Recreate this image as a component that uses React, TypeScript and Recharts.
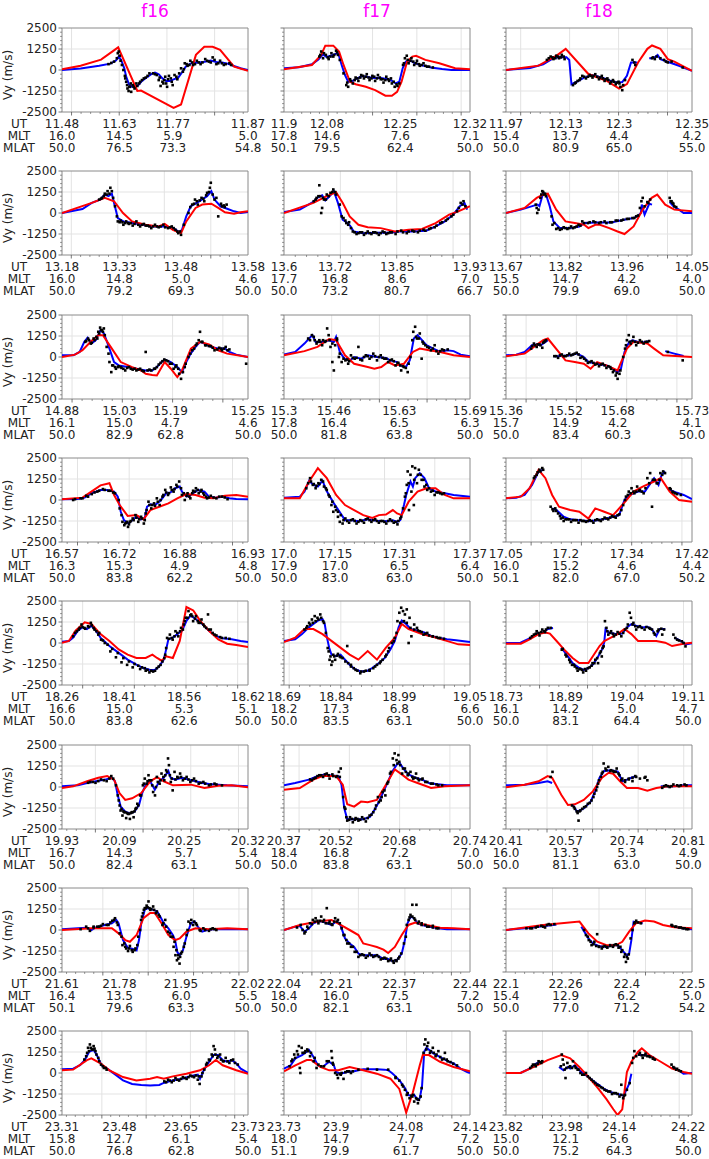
import React from 'react';
import { ComposedChart, XAxis, YAxis, CartesianGrid, Line, Scatter, ReferenceArea } from 'recharts';

// satellites (columns)
const sats = ['f16', 'f17', 'f18'];

// tick labels under each panel, row by row (f16, f17, f18)
const utLabels = [
  ['11.48', '11.63', '11.77', '11.87'], ['11.9', '12.08', '12.25', '12.32'], ['11.97', '12.13', '12.3', '12.35'],
  ['13.18', '13.33', '13.48', '13.58'], ['13.6', '13.72', '13.85', '13.93'], ['13.67', '13.82', '13.96', '14.05'],
  ['14.88', '15.03', '15.19', '15.25'], ['15.3', '15.46', '15.63', '15.69'], ['15.36', '15.52', '15.68', '15.73'],
  ['16.57', '16.72', '16.88', '16.93'], ['17.0', '17.15', '17.31', '17.37'], ['17.05', '17.2', '17.34', '17.42'],
  ['18.26', '18.41', '18.56', '18.62'], ['18.69', '18.84', '18.99', '19.05'], ['18.73', '18.89', '19.04', '19.11'],
  ['19.93', '20.09', '20.25', '20.32'], ['20.37', '20.52', '20.68', '20.74'], ['20.41', '20.57', '20.74', '20.81'],
  ['21.61', '21.78', '21.95', '22.02'], ['22.04', '22.21', '22.37', '22.44'], ['22.1', '22.26', '22.4', '22.5'],
  ['23.31', '23.48', '23.65', '23.73'], ['23.73', '23.9', '24.08', '24.14'], ['23.82', '23.98', '24.14', '24.22'],
];
const mltLabels = [
  ['16.0', '14.5', '5.9', '5.0'], ['17.8', '14.6', '7.6', '7.1'], ['15.4', '13.7', '4.4', '4.2'],
  ['16.0', '14.8', '5.0', '4.6'], ['17.7', '16.8', '8.6', '7.0'], ['15.5', '14.7', '4.2', '4.0'],
  ['16.1', '15.0', '4.7', '4.6'], ['17.8', '16.4', '6.5', '6.3'], ['15.7', '14.9', '4.2', '4.1'],
  ['16.3', '15.3', '4.9', '4.8'], ['17.9', '17.0', '6.5', '6.4'], ['16.0', '15.2', '4.6', '4.4'],
  ['16.6', '15.0', '5.3', '5.1'], ['18.2', '17.3', '6.8', '6.6'], ['16.1', '14.2', '5.0', '4.7'],
  ['16.7', '14.3', '5.7', '5.4'], ['18.4', '16.8', '7.2', '7.0'], ['16.0', '13.3', '5.3', '4.9'],
  ['16.4', '13.5', '6.0', '5.5'], ['18.4', '16.0', '7.5', '7.2'], ['15.4', '12.9', '6.2', '5.0'],
  ['15.8', '12.7', '6.1', '5.4'], ['18.0', '14.7', '7.7', '7.2'], ['15.0', '12.1', '5.6', '4.8'],
];
const mlatLabels = [
  ['50.0', '76.5', '73.3', '54.8'], ['50.1', '79.5', '62.4', '50.0'], ['50.0', '80.9', '65.0', '55.0'],
  ['50.0', '79.2', '69.3', '50.0'], ['50.0', '73.2', '80.7', '66.7'], ['50.0', '79.9', '69.0', '50.0'],
  ['50.0', '82.9', '62.8', '50.0'], ['50.0', '81.8', '63.8', '50.0'], ['50.0', '83.4', '60.3', '50.0'],
  ['50.0', '83.8', '62.2', '50.0'], ['50.0', '83.0', '63.0', '50.0'], ['50.1', '82.0', '67.0', '50.2'],
  ['50.0', '83.8', '62.6', '50.0'], ['50.0', '83.5', '63.1', '50.0'], ['50.0', '83.1', '64.4', '50.0'],
  ['50.0', '82.4', '63.1', '50.0'], ['50.0', '83.8', '63.1', '50.0'], ['50.0', '81.1', '63.0', '50.0'],
  ['50.1', '79.6', '63.3', '50.0'], ['50.0', '82.1', '63.1', '50.0'], ['50.0', '77.0', '71.2', '54.2'],
  ['50.0', '76.8', '62.8', '50.0'], ['51.1', '79.9', '61.7', '50.0'], ['50.0', '75.2', '64.3', '50.0'],
];
// where the labelled ticks sit along each panel (fraction of width)
const labelPos = [
  [0, 0.309, 0.596, 1], [0, 0.231, 0.625, 1], [0, 0.321, 0.608, 1],
  [0, 0.309, 0.64, 1], [0, 0.275, 0.608, 1], [0, 0.321, 0.65, 1],
  [0, 0.309, 0.584, 1], [0, 0.268, 0.62, 1], [0, 0.321, 0.601, 1],
  [0, 0.309, 0.633, 1], [0, 0.275, 0.62, 1], [0, 0.321, 0.65, 1],
  [0, 0.309, 0.657, 1], [0, 0.28, 0.62, 1], [0, 0.321, 0.65, 0.98],
  [0, 0.309, 0.657, 1], [0, 0.28, 0.62, 1], [0, 0.321, 0.65, 0.98],
  [0, 0.309, 0.64, 1], [0, 0.28, 0.62, 1], [0, 0.321, 0.65, 1],
  [0, 0.309, 0.64, 1], [0, 0.28, 0.657, 1], [0, 0.321, 0.608, 0.98],
];

// series: flat [x (per mille of panel width), Vy (m/s), ...]
const blueR1 = [
  [0,0, 100,90, 200,250, 260,380, 290,560, 305,800, 318,600, 335,100, 345,-400, 360,-850, 375,-1000, 395,-980, 410,-900, 430,-650, 455,-450, 480,-250, 500,-150, 520,-250, 540,-500, 560,-650, 580,-650, 600,-560, 625,-450, 645,-150, 665,200, 690,380, 720,430, 760,470, 800,560, 830,480, 860,450, 890,380, 920,250, 960,100, 1000,0],
  [0,100, 80,160, 150,340, 185,630, 210,930, 228,780, 255,860, 278,960, 292,990, 310,300, 328,-300, 345,-700, 365,-680, 390,-520, 420,-360, 450,-420, 480,-470, 510,-460, 545,-520, 575,-600, 600,-800, 620,-700, 638,100, 655,500, 675,580, 700,420, 740,280, 790,150, 850,60, 900,0, 1000,0],
  [0,0, 130,120, 200,340, 255,700, 290,780, 325,760, 340,600, 352,-850, 380,-700, 420,-450, 465,-320, 515,-450, 560,-640, 600,-750, 625,-720, 650,-350, 672,450, 705,450, 740,null, 770,700, 795,720, 815,900, 830,650, 880,450, 930,250, 1000,-50],
];
const redR1 = [
  [0,50, 100,250, 210,620, 302,1350, 405,-1250, 425,-1220, 600,-2250, 640,-2050, 720,900, 765,1380, 810,1380, 850,1200, 925,200, 1000,-50],
  [0,40, 150,300, 200,900, 222,1450, 265,1450, 296,1100, 320,300, 355,-700, 385,-850, 440,-1000, 490,-1200, 545,-1530, 580,-1530, 608,-1300, 632,-700, 662,500, 690,800, 710,850, 760,600, 835,400, 920,100, 1000,40],
  [0,0, 175,260, 272,860, 321,1260, 443,-240, 540,-640, 608,-1100, 650,-840, 710,450, 760,1260, 785,1460, 830,1260, 870,650, 905,500, 1000,-50],
];
const dotsR1 = [
  [250,350, 265,420, 280,500, 295,700, 300,1000, 305,1100, 310,850, 315,550, 322,300, 330,0, 338,-350, 345,-700, 352,-1100, 358,-1250, 365,-1000, 372,-1300, 380,-900, 390,-1100, 400,-800, 420,-700, 440,-500, 470,-200, 500,-250, 520,-600, 530,-950, 545,-800, 555,-400, 565,-1000, 575,-350, 590,-700, 605,-300, 620,-550, 640,100, 650,-100, 660,400, 675,250, 690,550, 705,300, 725,550, 745,350, 770,650, 790,500, 810,750, 830,350, 850,550, 870,300, 900,400,
   340,-500, 350,-900, 362,-1000, 370,-800, 385,-1000, 405,-950, 415,-800, 430,-600, 450,-450, 460,-350, 490,-200, 510,-300, 525,-450, 540,-700, 550,-600, 560,-800, 570,-550, 585,-500, 595,-900, 615,-400, 630,-200, 655,50, 670,350, 685,300, 700,450, 715,350, 735,450, 755,450, 780,550, 800,450, 820,600, 840,400, 860,400, 880,350, 910,300],
  [190,800, 200,1100, 210,700, 225,900, 240,650, 255,1000, 265,800, 280,1150, 290,900, 320,-200, 335,-900, 345,-1000, 355,-550, 370,-800, 385,-450, 400,-650, 415,-300, 430,-500, 445,-250, 460,-600, 475,-350, 490,-650, 505,-300, 520,-550, 535,-750, 550,-400, 565,-650, 580,-800, 595,-1000, 610,-950, 640,300, 650,700, 660,850, 670,400, 685,700, 700,300, 715,550, 730,250, 750,400, 770,200,
   195,900, 215,1000, 235,750, 250,800, 270,900, 285,1050, 300,600, 340,-750, 360,-650, 380,-600, 395,-500, 410,-450, 425,-350, 440,-400, 455,-450, 470,-500, 485,-400, 500,-500, 515,-450, 530,-550, 545,-600, 560,-550, 575,-500, 590,-700, 605,-850, 620,-800, 645,400, 665,600, 680,550, 695,500, 710,400, 725,350, 740,300, 760,250, 780,200, 800,150],
  [220,600, 240,800, 255,650, 270,850, 285,700, 300,900, 315,650, 360,-900, 375,-750, 395,-600, 410,-350, 430,-500, 450,-300, 465,-450, 480,-250, 500,-550, 515,-350, 530,-650, 545,-500, 560,-800, 575,-600, 590,-850, 605,-700, 615,-1000, 625,-1200, 640,-600, 680,600, 695,300, 785,700, 800,650, 850,600, 870,450, 890,500, 950,150,
   230,700, 250,750, 265,700, 280,800, 295,750, 310,800, 370,-800, 385,-650, 400,-500, 420,-400, 440,-400, 455,-350, 470,-350, 490,-400, 505,-450, 520,-500, 535,-550, 550,-600, 565,-700, 580,-700, 595,-750, 610,-800, 630,-900, 690,450, 790,750, 810,800, 830,700, 860,500],
];

const blueR2 = [
  [0,0, 110,240, 160,600, 205,800, 230,1100, 250,1000, 268,1150, 280,600, 300,-300, 330,-500, 380,-600, 430,-700, 500,-800, 550,-800, 600,-900, 632,-1150, 645,-1000, 668,-200, 692,400, 740,700, 780,1000, 803,1300, 820,800, 852,400, 888,250, 925,100, 960,0, 1000,60],
  [0,60, 85,200, 155,650, 185,950, 205,1050, 222,750, 245,1000, 268,1300, 290,600, 315,-400, 335,-550, 355,-750, 375,-1100, 425,-1200, 500,-1170, 570,-1170, 620,-1100, 690,-1100, 765,-1050, 815,-800, 865,-500, 910,-100, 945,400, 970,600, 985,200],
  [0,0, 80,200, 150,440, 170,500, 180,400, 200,1200, 215,1100, 235,400, 255,-500, 290,-900, 345,-900, 395,-800, 420,-600, 490,-560, 565,-560, 635,-400, 685,-300, 710,-160, 725,0, 730,500, 745,-100, 770,550, 785,500, 800,null, 880,650, 900,400, 930,200, 955,0, 1000,0],
];
const redR2 = [
  [0,0, 160,600, 230,900, 280,700, 328,0, 377,-500, 450,-700, 520,-800, 552,-650, 596,-1000, 640,-1200, 668,-500, 718,300, 754,500, 803,550, 840,300, 876,40, 925,-40, 960,40, 1000,100],
  [0,0, 158,600, 230,1000, 280,1230, 316,600, 353,-200, 400,-700, 450,-850, 520,-900, 596,-1100, 670,-1000, 742,-950, 815,-600, 888,-100, 937,100, 1000,400],
  [0,0, 100,300, 165,900, 200,1100, 225,1150, 270,200, 320,-500, 370,-600, 420,-700, 443,-900, 480,-700, 505,-700, 555,-900, 600,-1100, 637,-1250, 686,-800, 735,200, 783,900, 813,1100, 856,500, 905,200, 1000,100],
];
const dotsR2 = [
  [200,800, 215,900, 230,1150, 245,1300, 260,1500, 268,1300, 285,400, 300,-500, 315,-450, 330,-700, 345,-500, 360,-650, 380,-750, 400,-500, 420,-800, 440,-650, 460,-750, 480,-900, 500,-700, 520,-850, 545,-700, 570,-900, 590,-800, 610,-1000, 625,-1200, 640,-1300, 655,-700, 680,0, 700,500, 715,800, 730,500, 750,900, 765,700, 780,1200, 795,1500, 800,1800, 810,1100, 830,900, 840,-200, 855,550, 870,450, 885,500,
   210,850, 225,1000, 240,1100, 255,1150, 275,900, 295,-200, 310,-550, 325,-550, 340,-600, 355,-600, 370,-600, 390,-650, 410,-700, 430,-700, 450,-750, 470,-800, 490,-800, 510,-800, 530,-800, 555,-850, 580,-850, 600,-900, 620,-1100, 635,-1100, 690,350, 710,550, 725,700, 740,750, 760,850, 775,1050, 790,1250, 820,800, 860,400, 875,350],
  [160,700, 175,900, 190,1650, 195,1000, 200,0, 205,300, 215,800, 230,1100, 250,1200, 265,1400, 280,1100, 300,500, 320,-300, 335,-600, 350,-550, 370,-1100, 390,-1250, 410,-1150, 430,-1300, 450,-1100, 470,-1250, 490,-1150, 510,-1300, 530,-1100, 550,-1250, 570,-1150, 600,-1250, 630,-1050, 660,-1200, 690,-1050, 720,-1150, 750,-1000, 780,-950, 810,-850, 840,-600, 870,-450, 900,-200, 930,100, 950,600, 965,700, 975,400,
   170,800, 185,1000, 210,900, 225,800, 240,1000, 260,1250, 275,1250, 310,-200, 330,-450, 345,-700, 360,-900, 380,-1150, 400,-1200, 420,-1150, 440,-1200, 460,-1200, 480,-1150, 500,-1200, 520,-1200, 540,-1150, 560,-1200, 580,-1150, 610,-1100, 640,-1150, 670,-1100, 700,-1100, 730,-1050, 760,-1050, 790,-900, 820,-750, 850,-550, 880,-350, 910,-100, 940,300, 960,500],
  [160,500, 168,0, 175,200, 185,900, 195,1300, 205,1100, 215,1000, 250,-700, 270,-950, 290,-1000, 310,-850, 330,-950, 350,-800, 370,-850, 390,-700, 410,-500, 440,-600, 470,-500, 500,-600, 530,-500, 560,-550, 590,-450, 620,-450, 650,-350, 680,-300, 700,-200, 720,300, 728,700, 735,900, 745,400, 760,650, 775,800, 880,900, 890,700, 900,550, 915,350,
   165,300, 190,1100, 200,1250, 210,1150, 245,-200, 260,-600, 280,-900, 300,-950, 320,-900, 340,-900, 360,-900, 380,-800, 400,-750, 420,-600, 450,-550, 480,-550, 510,-550, 540,-600, 570,-550, 600,-450, 630,-400, 660,-350, 690,-300, 710,-150, 765,600, 885,700, 895,600, 905,400],
];

const blueR3 = [
  [0,100, 60,100, 95,300, 120,900, 138,1150, 158,800, 182,1000, 207,1600, 226,1400, 255,500, 280,-300, 305,-500, 355,-600, 400,-700, 450,-800, 485,-800, 510,-600, 535,-300, 552,-160, 585,-300, 620,-600, 645,-900, 668,-300, 692,200, 718,600, 742,900, 766,800, 800,600, 840,500, 876,500, 900,300, 937,140, 1000,0],
  [0,140, 60,300, 110,800, 135,1100, 153,1300, 170,900, 205,900, 243,1000, 268,900, 280,1200, 300,300, 325,-100, 355,-200, 378,0, 415,-100, 450,100, 500,0, 548,-60, 572,-200, 608,-300, 622,-500, 655,-600, 676,-200, 698,1100, 718,1300, 742,1000, 766,700, 803,500, 840,300, 876,400, 912,350, 950,140, 1000,40],
  [0,100, 55,140, 100,300, 140,700, 163,750, 187,700, 212,900, 225,1000, 240,null, 255,40, 297,60, 345,100, 382,200, 418,0, 443,-300, 490,-400, 540,-500, 576,-700, 600,-900, 618,-700, 637,300, 662,900, 681,1000, 710,900, 735,870, 771,950, 810,null, 856,350, 905,200, 955,60],
];
const redR3 = [
  [0,0, 70,140, 110,400, 158,950, 195,1300, 220,1300, 268,500, 316,-300, 377,-600, 426,-800, 450,-1000, 485,-1070, 510,-1100, 552,-300, 585,-700, 620,-1200, 645,-800, 693,500, 742,900, 790,750, 840,400, 888,200, 1000,0],
  [0,100, 110,350, 180,600, 243,1070, 280,1000, 328,100, 377,-400, 450,-600, 486,-700, 523,-600, 560,-300, 596,-500, 645,-400, 693,300, 730,500, 780,400, 840,300, 912,100, 1000,0],
  [0,40, 100,200, 150,600, 200,1000, 225,1100, 320,-200, 370,-300, 418,-400, 455,-700, 490,-300, 540,-500, 600,-800, 650,500, 686,900, 760,800, 796,500, 845,100, 1000,0],
];
const dotsR3 = [
  [130,950, 145,1000, 160,850, 170,1100, 185,1200, 195,1500, 205,1750, 215,1600, 225,1700, 240,600, 255,-300, 265,-900, 275,-500, 290,-700, 305,-550, 320,-650, 340,-800, 360,-600, 380,-750, 400,-800, 420,-700, 440,-850, 450,300, 470,-750, 500,-700, 520,-450, 540,-250, 560,-200, 580,-400, 600,-700, 615,-500, 630,-1000, 640,-1300, 660,-600, 680,0, 700,400, 720,700, 735,1000, 742,1500, 755,900, 775,700, 800,650, 820,400, 845,550, 860,400, 880,600, 900,450, 990,-400,
   125,900, 140,1100, 155,800, 175,1000, 190,1100, 200,1400, 210,1600, 220,1500, 230,1300, 250,200, 270,-500, 285,-600, 300,-600, 315,-600, 330,-700, 350,-650, 370,-700, 390,-700, 410,-750, 430,-800, 460,-800, 480,-800, 495,-700, 510,-600, 530,-350, 550,-150, 570,-250, 590,-400, 610,-600, 625,-700, 650,-900, 665,-400, 690,200, 710,500, 725,800, 750,900, 770,700, 790,650, 810,550, 835,450, 855,500, 870,500, 890,400],
  [140,1000, 160,1200, 175,800, 190,1000, 205,700, 220,900, 232,1700, 240,1300, 250,600, 260,-300, 268,-800, 275,700, 285,1000, 295,0, 310,-300, 330,-200, 345,-400, 360,100, 380,-100, 400,600, 420,-200, 440,100, 460,-100, 480,200, 500,-200, 520,100, 540,-100, 560,-300, 580,-150, 600,-500, 615,-350, 630,-800, 645,-600, 665,-900, 680,0, 695,1500, 705,1800, 715,1100, 730,1400, 740,-100, 750,800, 770,600, 790,400, 810,700, 830,200, 850,450,
   130,1100, 150,1300, 165,1000, 180,900, 195,900, 210,1000, 225,950, 245,1000, 260,800, 285,1100, 300,200, 320,-100, 340,-150, 350,-250, 370,-50, 390,-50, 410,-150, 430,0, 450,50, 470,0, 490,50, 510,0, 530,-50, 550,-100, 570,-200, 590,-250, 610,-350, 625,-500, 640,-550, 655,-650, 670,-400, 690,1000, 710,1200, 725,1100, 745,900, 760,700, 780,550, 800,500, 820,350, 840,350, 860,400, 880,450],
  [135,500, 150,800, 165,600, 180,750, 195,550, 205,900, 215,1000, 260,50, 280,-50, 300,150, 320,50, 340,200, 360,150, 380,250, 400,-50, 420,-100, 440,-350, 460,-250, 480,-450, 500,-550, 520,-400, 540,-650, 560,-600, 575,-900, 590,-1100, 600,-1300, 610,-1000, 640,500, 650,1000, 660,1300, 670,800, 685,1200, 700,700, 720,1000, 740,800, 760,900, 870,300, 950,-200,
   140,650, 155,700, 170,750, 185,700, 200,850, 210,950, 270,50, 290,100, 310,50, 330,100, 350,100, 370,200, 390,150, 410,0, 430,-200, 450,-300, 470,-350, 490,-400, 510,-450, 530,-500, 550,-550, 565,-700, 580,-800, 595,-950, 615,-800, 630,0, 645,700, 665,900, 680,950, 695,900, 710,850, 730,900, 750,900, 770,950],
];

const blueR4 = [
  [0,40, 85,60, 122,140, 158,400, 207,600, 243,600, 280,500, 300,200, 316,-700, 333,-1200, 358,-1400, 377,-1200, 400,-1000, 425,-1150, 445,-1070, 457,-400, 475,-260, 500,-300, 528,-60, 560,400, 584,450, 608,700, 633,800, 645,500, 670,200, 693,300, 730,600, 766,500, 790,200, 827,140, 864,200, 900,100, 937,60, 1000,40],
  [0,140, 85,200, 110,500, 135,1150, 158,900, 182,800, 207,1150, 231,500, 268,-200, 305,-800, 328,-1200, 365,-1200, 400,-1270, 450,-1150, 500,-1230, 548,-1270, 585,-1200, 608,-1300, 625,-1200, 645,-300, 657,300, 680,1100, 693,800, 705,1300, 730,1600, 755,1300, 780,700, 815,500, 865,400, 912,300, 1000,200],
  [0,100, 55,140, 100,300, 140,900, 175,1700, 200,1800, 220,null, 248,-500, 272,-600, 310,-1000, 345,-1150, 395,-1200, 443,-1270, 490,-1200, 540,-1100, 576,-1000, 608,-900, 637,0, 662,300, 710,500, 747,500, 771,900, 796,1300, 820,900, 837,1500, 856,1700, 870,null, 880,600, 915,450, 955,300, 1000,60],
];
const redR4 = [
  [0,40, 110,140, 158,500, 207,870, 255,1000, 280,300, 310,-300, 353,-950, 400,-900, 438,-1150, 475,-600, 523,-400, 572,-200, 620,100, 669,350, 718,300, 766,140, 815,100, 876,260, 937,300, 1000,200],
  [0,100, 85,100, 135,1100, 182,1900, 230,1300, 280,300, 328,-300, 377,-600, 426,-900, 475,-1070, 510,-900, 548,-870, 585,-600, 608,-800, 633,-900, 670,-100, 718,500, 766,700, 815,700, 864,300, 912,100, 1000,100],
  [0,100, 80,200, 127,700, 175,1800, 212,1300, 248,300, 285,-400, 345,-600, 394,-700, 443,-1100, 480,-500, 528,-700, 576,-900, 625,-300, 686,500, 735,800, 796,1100, 832,1300, 880,500, 930,0, 1000,-100],
];
const dotsR4 = [
  [60,0, 100,100, 130,250, 160,350, 190,500, 220,650, 250,550, 275,450, 310,-500, 325,-1300, 335,-1500, 345,-1350, 355,-1600, 365,-1300, 380,-1100, 395,-900, 410,-1300, 425,-1000, 440,-1400, 455,-600, 465,-100, 480,-500, 495,-200, 510,100, 525,-300, 540,200, 555,600, 570,300, 585,750, 600,500, 615,900, 630,1100, 645,300, 660,0, 675,400, 690,100, 705,550, 720,700, 735,400, 750,600, 765,300, 780,100, 800,250, 830,100, 860,200, 890,50,
   70,50, 110,100, 140,200, 175,450, 200,550, 230,600, 260,550, 285,400, 305,0, 320,-900, 340,-1400, 350,-1300, 360,-1450, 370,-1250, 385,-1200, 400,-1050, 415,-1150, 430,-1100, 445,-1200, 450,-800, 470,-300, 485,-300, 500,-350, 515,-100, 530,0, 545,300, 560,450, 575,400, 590,600, 605,650, 620,800, 640,700, 655,400, 670,250, 685,200, 700,400, 715,500, 730,600, 745,500, 760,400, 775,200, 790,150, 815,150, 845,200, 875,150],
  [130,1000, 140,1300, 155,900, 170,700, 185,1000, 200,1200, 215,800, 230,600, 245,200, 255,-300, 265,-700, 280,-600, 290,-1000, 300,-1300, 315,-1400, 330,-1100, 350,-1350, 370,-1150, 390,-1400, 410,-1200, 430,-1350, 450,-1100, 470,-1300, 490,-1150, 510,-1350, 530,-1250, 550,-1400, 570,-1150, 590,-1350, 610,-1450, 625,-1100, 640,-500, 650,200, 660,900, 665,1700, 672,-600, 680,1500, 685,500, 690,2000, 698,-300, 705,1900, 715,1000, 725,1800, 740,1200, 755,800, 770,600, 790,500, 810,300, 830,450, 850,350,
   120,700, 145,1100, 160,950, 175,850, 190,950, 210,1100, 225,700, 240,300, 260,-100, 275,-400, 290,-700, 305,-900, 320,-1200, 340,-1250, 360,-1200, 380,-1250, 400,-1300, 420,-1250, 440,-1150, 460,-1200, 480,-1200, 500,-1250, 520,-1250, 540,-1300, 560,-1250, 580,-1250, 600,-1300, 615,-1250, 630,-1000, 655,400, 670,1000, 700,1200, 720,1500, 735,1500, 750,1200, 765,900, 780,700, 800,550, 820,450, 840,400, 860,400],
  [150,1300, 165,1500, 180,1800, 195,1900, 240,-400, 255,-650, 265,-500, 280,-800, 295,-1100, 310,-1250, 330,-1150, 350,-1300, 370,-1200, 390,-1350, 410,-1250, 430,-1300, 450,-1200, 470,-1350, 490,-1150, 510,-1250, 530,-1050, 550,-1150, 570,-950, 590,-1050, 610,-850, 630,-300, 645,200, 660,500, 675,700, 690,400, 705,800, 720,600, 740,400, 760,1300, 775,1600, 785,-400, 800,1200, 815,1000, 830,1600, 845,1700, 880,700, 895,500, 910,400,
   155,1400, 170,1650, 185,1700, 200,1800, 250,-550, 270,-650, 290,-950, 305,-1050, 320,-1150, 340,-1150, 360,-1200, 380,-1200, 400,-1200, 420,-1250, 440,-1250, 460,-1250, 480,-1200, 500,-1200, 520,-1150, 540,-1100, 560,-1050, 580,-1000, 600,-900, 620,-600, 640,0, 655,300, 670,400, 685,500, 700,500, 715,550, 730,500, 750,700, 770,1000, 790,1200, 810,1000, 825,1200, 840,1500, 855,1600, 885,650, 900,450, 920,350, 940,300],
];

const blueR5 = [
  [0,80, 37,120, 60,320, 85,730, 110,930, 134,830, 158,1030, 182,730, 207,320, 255,-180, 305,-590, 353,-990, 400,-1290, 438,-1490, 474,-1600, 500,-1600, 523,-1390, 547,-990, 560,-380, 572,220, 596,320, 620,530, 645,730, 670,1330, 693,1640, 718,1430, 754,1130, 790,730, 827,420, 864,280, 912,220, 960,120, 1000,60],
  [0,120, 60,220, 97,530, 134,930, 158,1130, 182,1330, 207,1430, 219,1130, 231,320, 243,-280, 255,-690, 280,-790, 304,-690, 328,-990, 353,-1290, 377,-1530, 414,-1700, 450,-1650, 474,-1490, 511,-1190, 542,-890, 572,-380, 596,120, 616,930, 633,1330, 657,1130, 681,830, 718,730, 754,630, 790,420, 827,320, 876,220, 925,160, 1000,60],
  [0,0, 78,20, 127,280, 163,560, 200,620, 224,830, 253,890, 275,null, 297,-280, 333,-790, 358,-1190, 394,-1490, 418,-1600, 443,-1490, 467,-1290, 491,-890, 516,-380, 528,20, 535,830, 552,620, 589,530, 625,560, 650,930, 674,1130, 698,1030, 735,930, 759,970, 783,830, 808,420, 827,830, 856,830, 880,null, 905,320, 942,120, 966,-80, 1000,-20],
];
const redR5 = [
  [0,20, 37,120, 73,730, 122,1230, 158,1130, 207,530, 255,120, 305,-380, 353,-690, 400,-890, 450,-890, 486,-690, 511,-890, 535,-1050, 560,-790, 596,-890, 633,120, 669,2140, 706,1940, 742,1330, 790,730, 840,220, 888,-40, 937,-120, 1000,-240],
  [0,60, 60,320, 110,830, 158,830, 207,530, 280,-80, 353,-690, 400,-990, 450,-480, 500,-990, 548,-280, 596,320, 633,1130, 670,830, 742,530, 815,320, 888,80, 937,-80, 1000,-120],
  [0,-40, 80,-40, 127,220, 175,530, 212,620, 236,560, 272,120, 320,-480, 358,-890, 394,-1190, 443,-1190, 467,-790, 503,-180, 528,120, 564,320, 600,530, 637,830, 674,530, 710,120, 808,120, 856,20, 893,-180, 954,-40, 1000,20],
];
const dotsR5 = [
  [70,600, 90,800, 105,1100, 120,900, 140,1000, 155,1200, 170,900, 185,700, 200,600, 210,200, 230,0, 260,-500, 290,-850, 320,-1150, 350,-1300, 380,-1450, 420,-1550, 450,-1650, 470,-1750, 490,-1700, 510,-1500, 530,-1300, 555,-700, 565,300, 580,500, 595,200, 610,700, 625,400, 640,900, 655,1100, 665,1500, 680,1900, 695,1700, 705,1300, 720,1600, 735,1200, 750,1400, 765,1000, 785,1700, 800,800, 820,500, 850,350,
   60,400, 80,700, 95,900, 110,950, 125,850, 145,950, 160,1050, 175,800, 195,500, 220,150, 245,-100, 270,-350, 300,-600, 330,-900, 360,-1100, 390,-1250, 410,-1350, 430,-1450, 445,-1500, 460,-1600, 480,-1650, 500,-1650, 520,-1400, 540,-1100, 550,-900, 560,-300, 575,250, 590,300, 605,400, 620,600, 635,700, 650,800, 660,1300, 675,1500, 690,1650, 700,1600, 715,1450, 730,1300, 745,1200, 760,1100, 775,900, 790,800, 810,600, 830,450, 860,300, 880,300, 900,250],
  [120,900, 135,1200, 150,1400, 165,1600, 180,1500, 195,1700, 210,1300, 225,600, 235,-300, 245,-1000, 255,-1300, 265,-700, 275,-1000, 290,-650, 305,-850, 340,-180, 360,-1400, 385,-1600, 410,-1800, 430,-1700, 460,-1650, 490,-1400, 520,-1100, 545,-800, 560,-500, 580,0, 595,300, 610,1300, 620,1800, 630,2100, 640,1900, 650,1700, 660,2000, 670,0, 675,1500, 685,400, 700,1100, 715,900, 730,700, 750,500, 770,600, 800,400, 830,300,
   110,800, 125,1000, 140,1100, 155,1200, 170,1300, 185,1400, 200,1500, 215,1200, 240,-500, 250,-800, 260,-1100, 270,-800, 285,-750, 300,-800, 315,-900, 330,-1100, 345,-1200, 360,-1300, 375,-1500, 395,-1650, 415,-1700, 440,-1650, 460,-1600, 480,-1500, 500,-1300, 515,-1200, 530,-1000, 550,-700, 565,-300, 590,100, 605,600, 625,1200, 645,1300, 660,1200, 680,900, 700,800, 720,750, 740,650, 760,550, 780,450, 800,400, 820,350, 840,300, 860,250],
  [130,300, 150,500, 165,700, 180,450, 195,800, 210,650, 225,900, 300,-400, 320,-700, 340,-1000, 355,-1300, 370,-1400, 385,-1650, 400,-1550, 415,-1750, 430,-1650, 450,-1450, 465,-1200, 480,-1000, 495,-1200, 505,-600, 515,-800, 525,-200, 532,1300, 540,900, 550,500, 565,700, 580,400, 600,650, 620,400, 640,800, 655,1100, 665,1800, 672,1500, 685,1200, 700,800, 720,1000, 745,800, 775,850, 795,600, 815,700, 840,500, 900,500, 920,200, 945,100, 965,-200,
   140,400, 160,550, 175,600, 190,650, 205,700, 215,800, 240,900, 305,-350, 325,-800, 345,-1150, 365,-1300, 380,-1500, 395,-1550, 410,-1600, 425,-1550, 440,-1500, 460,-1350, 475,-1200, 490,-900, 510,-500, 520,-300, 545,700, 560,600, 575,550, 590,500, 610,550, 630,600, 650,900, 680,1100, 695,1000, 710,950, 730,900, 755,950, 770,900, 785,800, 800,500, 820,800, 835,850, 850,800, 910,300, 930,150, 955,0],
];

const blueR6 = [
  [0,40, 85,100, 135,240, 182,340, 231,440, 268,550, 285,340, 299,-460, 316,-1170, 340,-1470, 365,-1580, 389,-1470, 414,-1070, 431,-360, 450,140, 474,340, 499,-160, 523,340, 547,550, 572,950, 584,550, 608,440, 645,550, 681,440, 718,340, 754,240, 790,180, 840,140, 888,100, 1000,40],
  [0,100, 60,240, 134,440, 182,650, 219,750, 255,690, 292,650, 309,140, 324,-1270, 340,-1920, 377,-1920, 426,-1920, 462,-1780, 486,-1370, 511,-870, 535,-260, 560,340, 584,950, 608,1350, 620,1450, 645,1050, 669,750, 706,550, 742,440, 779,240, 815,180, 876,100, 1000,100],
  [0,100, 100,140, 175,240, 224,340, 248,240, 270,null, 360,-1070, 382,-1470, 418,-1270, 455,-870, 479,-260, 503,550, 528,950, 564,990, 601,910, 625,340, 650,440, 674,550, 698,650, 760,null, 832,40, 905,40, 955,100, 1000,100],
];
const redR6 = [
  [0,-60, 60,40, 135,340, 195,550, 243,650, 280,440, 309,-360, 340,-770, 377,-670, 426,-360, 474,340, 511,590, 547,340, 596,100, 693,140, 766,-60, 840,80, 912,100, 1000,-20],
  [0,-160, 85,-60, 158,440, 207,650, 280,650, 316,140, 340,-1030, 377,-1170, 414,-870, 450,-910, 499,-770, 548,140, 596,1050, 633,750, 669,440, 718,240, 791,-60, 864,40, 1000,100],
  [0,-20, 100,140, 175,340, 224,650, 248,550, 297,-460, 333,-1070, 370,-1030, 418,-770, 467,-260, 516,550, 552,850, 576,790, 613,340, 650,-60, 710,-60, 760,-220, 808,-60, 870,40, 1000,40],
];
const dotsR6 = [
  [150,300, 180,250, 210,450, 240,350, 265,650, 290,100, 305,-800, 315,-1400, 325,-1700, 335,-1500, 345,-1850, 355,-1600, 365,-1900, 375,-1500, 385,-1800, 395,-1300, 405,-1000, 420,-500, 435,100, 445,500, 455,200, 465,700, 480,400, 490,-300, 500,-500, 510,600, 525,200, 535,800, 550,400, 560,1000, 570,1700, 575,1300, 585,300, 595,-200, 605,900, 620,600, 635,800, 650,400, 670,600, 690,300, 710,500, 735,200, 760,300, 790,100, 820,200,
   140,250, 165,300, 195,350, 225,400, 255,500, 275,500, 300,-500, 310,-1100, 320,-1300, 330,-1450, 340,-1500, 350,-1550, 360,-1600, 370,-1550, 380,-1500, 390,-1450, 400,-1250, 410,-1100, 425,-500, 440,200, 460,350, 470,400, 485,100, 505,0, 515,300, 530,400, 545,600, 555,700, 565,900, 580,700, 590,500, 610,450, 625,550, 640,600, 660,500, 680,450, 700,400, 720,350, 745,250, 770,200, 800,150, 830,150, 860,100],
  [150,400, 170,550, 190,700, 210,600, 230,800, 245,500, 260,750, 280,600, 295,900, 305,1100, 318,-600, 330,-1300, 340,-2000, 355,-1800, 370,-2100, 385,-1850, 400,-2000, 420,-1800, 440,-2050, 460,-1700, 480,-1500, 495,-1100, 505,-600, 520,-800, 530,-300, 545,-500, 555,200, 570,800, 585,1700, 595,2000, 605,1600, 615,1900, 625,1300, 635,800, 650,1100, 665,700, 680,900, 695,500, 710,800, 725,400, 745,500, 770,300, 800,200, 830,100,
   140,450, 160,500, 180,650, 200,700, 220,750, 240,700, 265,650, 285,650, 300,600, 325,-1200, 335,-1800, 350,-1950, 365,-1900, 380,-1950, 395,-1900, 410,-1950, 430,-1900, 450,-1850, 470,-1650, 490,-1300, 510,-900, 525,-600, 540,-200, 560,300, 575,900, 590,1300, 610,1400, 620,1500, 640,1100, 655,900, 670,800, 690,600, 705,550, 720,500, 740,450, 760,300, 790,200, 820,150, 850,100],
  [240,600, 250,900, 355,-1100, 370,-1300, 385,-1550, 390,-2000, 400,-1400, 420,-1200, 440,-1000, 460,-800, 475,-400, 490,0, 500,400, 515,800, 525,1400, 535,1100, 550,1200, 565,1000, 580,900, 595,1100, 610,700, 625,500, 640,300, 660,450, 680,350, 700,600, 720,500, 750,600, 760,400, 840,-50, 860,100, 880,0, 900,150, 930,50, 960,150,
   365,-1200, 380,-1450, 395,-1450, 410,-1300, 430,-1150, 450,-950, 470,-600, 485,-200, 495,200, 510,600, 520,900, 540,1000, 560,950, 575,950, 590,900, 605,800, 620,400, 640,400, 660,500, 680,550, 695,650, 745,550, 850,50, 870,50, 890,50, 920,100, 940,100, 970,100],
];

const blueR7 = [
  [0,40, 85,100, 134,140, 158,0, 182,160, 231,300, 268,400, 292,600, 304,400, 316,-100, 328,-600, 353,-1050, 377,-1110, 401,-1210, 414,-600, 426,400, 445,1210, 462,1310, 486,1210, 511,1110, 528,800, 547,400, 572,100, 596,-300, 608,-600, 620,-1310, 633,-1510, 650,-1210, 669,-400, 693,400, 713,500, 730,200, 754,-100, 779,0, 815,40, 864,40, 1000,40],
  [0,0, 60,200, 85,240, 110,-100, 134,100, 158,400, 182,500, 207,500, 231,400, 255,300, 280,500, 300,400, 328,-500, 353,-800, 377,-1010, 401,-1410, 426,-1510, 462,-1510, 499,-1510, 535,-1720, 560,-1720, 584,-1860, 608,-1780, 633,-1410, 650,-600, 664,400, 681,800, 698,700, 718,400, 742,300, 779,200, 827,100, 876,40, 1000,40],
  [0,0, 100,100, 175,200, 250,300, 272,320, 330,null, 405,200, 443,-500, 467,-800, 503,-970, 540,-1010, 576,-910, 601,-910, 625,-1210, 650,-1510, 662,-1410, 674,-600, 686,500, 710,440, 735,400, 800,null, 880,250, 900,200, 950,100, 1000,40],
];
const redR7 = [
  [0,0, 158,100, 268,100, 304,-200, 340,-600, 365,-700, 401,-300, 438,700, 474,1010, 499,1010, 535,400, 572,-300, 608,-600, 633,-500, 669,-100, 718,100, 790,40, 888,100, 1000,40],
  [0,0, 85,300, 182,500, 255,600, 304,300, 353,0, 400,-300, 426,-800, 462,-900, 499,-1010, 535,-1170, 560,-1370, 596,-1010, 633,-300, 669,300, 706,440, 766,300, 840,140, 912,100, 1000,40],
  [0,0, 200,300, 395,500, 443,-200, 491,-700, 540,-910, 590,-910, 625,-700, 662,-100, 698,400, 747,560, 796,500, 844,300, 905,160, 1000,100],
];
const dotsR7 = [
  [100,50, 130,200, 150,-50, 170,150, 200,200, 220,350, 250,300, 270,550, 285,700, 295,450, 310,-200, 325,-900, 335,-800, 345,-1100, 355,-1250, 365,-950, 380,-1300, 395,-1100, 410,-400, 425,600, 435,1000, 445,1300, 455,1450, 465,1700, 475,1200, 490,1400, 505,1000, 520,900, 540,300, 555,600, 570,-100, 585,-400, 600,-1000, 610,-1500, 618,-1800, 625,-1700, 632,-2000, 640,-1400, 655,-1000, 670,-300, 680,500, 695,600, 705,300, 720,400, 740,0, 760,100, 790,-50, 810,100, 830,0,
   140,100, 170,200, 190,200, 210,250, 240,300, 260,450, 280,600, 300,300, 320,-400, 340,-1000, 360,-1100, 375,-1200, 390,-1200, 405,-900, 420,0, 430,800, 440,1200, 450,1300, 460,1350, 470,1300, 480,1250, 495,1200, 510,1100, 525,800, 545,400, 560,200, 580,-200, 595,-400, 605,-700, 615,-1200, 625,-1500, 635,-1600, 645,-1300, 660,-800, 675,0, 690,400, 710,500, 725,300, 745,-50, 770,0, 800,50, 820,50],
  [90,300, 110,-200, 125,200, 140,400, 155,600, 170,700, 185,400, 200,800, 215,600, 230,1300, 245,500, 260,300, 275,700, 290,600, 310,100, 325,-300, 340,-800, 360,-1000, 380,-1300, 400,-1600, 420,-1450, 440,-1650, 460,-1400, 480,-1600, 500,-1500, 520,-1750, 540,-1650, 560,-1850, 575,-1700, 590,-1950, 605,-1850, 620,-1600, 655,-400, 670,600, 680,900, 690,1500, 700,700, 712,1500, 725,500, 740,400, 760,300, 780,200, 800,250, 830,100,
   70,150, 100,0, 115,-100, 130,100, 150,350, 165,500, 180,550, 195,550, 210,500, 225,400, 240,400, 255,350, 270,500, 285,500, 300,400, 320,-300, 335,-600, 350,-800, 370,-1000, 390,-1300, 410,-1500, 430,-1500, 450,-1550, 470,-1500, 490,-1550, 510,-1600, 530,-1700, 550,-1700, 570,-1800, 585,-1850, 600,-1800, 615,-1700, 630,-1400, 645,-800, 660,300, 675,750, 690,800, 705,600, 720,400, 740,300, 770,200, 800,150, 820,100],
  [130,100, 160,150, 190,250, 210,150, 230,350, 260,350, 430,-300, 445,-600, 460,-900, 475,-700, 490,-250, 500,-1000, 515,-1100, 530,-950, 545,-1050, 560,-900, 575,-1000, 590,-850, 605,-1050, 620,-1300, 635,-1600, 645,-1900, 655,-1700, 670,-500, 690,400, 700,550, 890,300, 910,200, 930,150, 950,100, 970,50,
   110,100, 140,100, 170,200, 200,200, 220,300, 240,300, 420,0, 440,-400, 455,-700, 470,-850, 485,-950, 500,-1000, 520,-1000, 540,-1000, 560,-950, 580,-900, 600,-900, 615,-1000, 625,-1200, 640,-1450, 650,-1600, 660,-1450, 680,0, 695,450, 710,450, 725,400, 895,250, 915,200, 940,150, 960,100, 980,50],
];

const blueR8 = [
  [0,220, 60,260, 97,460, 122,770, 146,1270, 170,1370, 187,1070, 212,460, 243,260, 280,-40, 328,-440, 377,-650, 426,-710, 474,-750, 523,-710, 547,-590, 596,-440, 645,-340, 693,-180, 730,-100, 742,-340, 762,160, 791,670, 815,1070, 839,1070, 864,770, 888,670, 912,770, 937,570, 961,260, 1000,0],
  [0,260, 36,460, 61,870, 97,1070, 122,1270, 134,1370, 158,970, 182,460, 207,360, 243,670, 268,460, 280,60, 304,-40, 340,60, 377,100, 426,220, 500,220, 540,200, 560,160, 580,0, 600,-200, 625,-500, 650,-900, 668,-1300, 680,-1350, 700,-1300, 718,-1600, 730,-1500, 742,-800, 754,1270, 766,1500, 803,1170, 852,870, 888,670, 912,570, 949,260, 985,60, 1000,0],
  [0,0, 78,0, 127,260, 163,570, 200,670, 240,null, 285,360, 309,160, 333,360, 345,260, 370,460, 394,160, 431,-140, 455,-340, 491,-650, 528,-950, 564,-1150, 601,-1250, 633,-1350, 645,-1050, 662,-650, 674,-40, 690,null, 710,1070, 747,1070, 783,970, 808,770, 850,null, 893,360, 929,160, 954,-40, 1000,0],
];
const redR8 = [
  [0,160, 60,200, 134,770, 158,870, 207,570, 255,160, 328,-240, 400,-440, 474,-340, 511,-240, 547,-340, 596,-200, 669,-40, 742,160, 791,460, 827,770, 864,460, 937,160, 1000,-40],
  [0,100, 61,460, 122,770, 146,770, 195,360, 243,160, 292,160, 353,360, 426,160, 499,-40, 572,-340, 620,-950, 657,-2360, 693,-1150, 730,460, 746,1070, 779,1070, 839,670, 912,360, 1000,100],
  [0,0, 78,0, 150,360, 224,770, 297,1070, 345,870, 394,360, 443,-240, 491,-850, 540,-1560, 577,-2160, 600,-2500, 625,-2160, 650,60, 674,670, 710,1270, 730,1470, 771,1070, 832,670, 893,260, 954,60, 1000,-40],
];
const dotsR8 = [
  [130,1000, 140,1500, 150,1700, 160,1400, 170,1600, 180,1300, 195,900, 210,500, 225,300, 240,200, 550,-500, 570,-400, 590,-550, 610,-300, 630,-450, 650,-250, 670,-350, 690,-150, 710,-250, 730,-400, 740,-650, 755,0, 775,500, 790,800, 805,1100, 815,1600, 822,1400, 835,900, 850,1100, 865,700, 880,900, 900,600, 920,800,
   120,800, 135,1200, 145,1300, 155,1500, 165,1400, 175,1450, 185,1100, 200,700, 220,400, 235,300, 560,-550, 580,-450, 600,-450, 620,-400, 640,-350, 660,-300, 680,-250, 700,-200, 720,-150, 735,-200, 750,-200, 765,200, 780,600, 795,750, 810,1000, 825,1100, 840,1000, 855,800, 870,700, 890,700, 910,750, 930,600, 945,500],
  [40,700, 55,1100, 70,1300, 80,1600, 85,300, 88,0, 95,1500, 110,1200, 125,1400, 140,1000, 160,700, 175,300, 200,400, 230,700, 255,1300, 258,900, 262,600, 275,0, 290,-300, 305,-100, 320,-350, 340,100, 360,0, 400,200, 450,250, 500,200, 560,200, 600,-300, 640,-800, 660,-1300, 675,-1500, 690,-1400, 700,-1700, 710,-1500, 720,-1800, 735,-1400, 755,1700, 760,2000, 765,1400, 775,1800, 785,1200, 800,1500, 815,1000, 830,1300, 850,800, 865,1200, 880,700,
   30,400, 45,800, 60,900, 75,1100, 100,1200, 115,1300, 130,1300, 145,1200, 165,900, 185,500, 215,400, 240,700, 265,500, 285,-100, 300,-50, 310,0, 330,50, 350,100, 370,100, 600,-250, 620,-450, 635,-700, 650,-1000, 665,-1200, 685,-1350, 695,-1300, 715,-1550, 725,-1600, 740,-900, 750,1200, 770,1600, 790,1300, 805,1200, 820,1100, 840,950, 860,850, 875,800, 895,650, 910,550, 930,450],
  [130,300, 145,500, 160,400, 175,700, 190,600, 300,1100, 305,800, 310,500, 315,200, 320,-300, 330,600, 345,400, 360,700, 375,300, 390,200, 410,-100, 430,0, 450,-300, 470,-500, 490,-700, 510,-850, 530,-1000, 550,-1100, 570,-1250, 590,-1200, 610,-1400, 620,-700, 630,-1500, 640,-1300, 678,600, 684,900, 690,1300, 700,1000, 720,1200, 735,900, 750,1150, 770,1000, 790,850, 890,500, 905,300, 920,250, 940,100,
   140,400, 155,500, 170,550, 185,650, 195,700, 295,400, 325,300, 340,350, 355,300, 370,400, 385,200, 400,0, 420,-100, 440,-200, 460,-400, 480,-600, 500,-750, 520,-900, 540,-1050, 560,-1100, 580,-1200, 600,-1250, 620,-1300, 635,-1350, 650,-1000, 665,-600, 715,1100, 730,1050, 745,1050, 760,1000, 775,950, 790,900, 800,800, 900,350, 915,200, 930,150],
];

const BLUE = [blueR1, blueR2, blueR3, blueR4, blueR5, blueR6, blueR7, blueR8];
const RED = [redR1, redR2, redR3, redR4, redR5, redR6, redR7, redR8];
const DOTS = [dotsR1, dotsR2, dotsR3, dotsR4, dotsR5, dotsR6, dotsR7, dotsR8];

const yTicks = [-2500, -2250, -2000, -1750, -1500, -1250, -1000, -750, -500, -250, 0, 250, 500, 750, 1000, 1250, 1500, 1750, 2000, 2250, 2500];

// panel geometry
const PL = 60, PW = 186, PT = 6, PH = 84, XH = 44, PR = 26;
const CW = PL + PW + PR, CH = PT + PH + XH;
const PB = PT + PH;
const colX = [62, 284, 506];
const rowPitch = 143.3, firstTop = 28;
const FONT = 'DejaVu Sans';

const toPoints = (a: (number | null)[]) => {
  const out: { x: number; y: number | null }[] = [];
  for (let i = 0; i < a.length; i += 2) out.push({ x: (a[i] as number) / 1000, y: a[i + 1] });
  return out;
};

const near = (arr: number[], v: number) => arr.findIndex((a) => Math.abs(a - v) < 1e-6);

function Panel({ row, col }: { row: number; col: number }) {
  const idx = row * 3 + col;
  const ut = utLabels[idx], mlt = mltLabels[idx], mlat = mlatLabels[idx], pos = labelPos[idx];
  // UT axis span, gridlines every 0.1 h, minor ticks every 0.02 h
  const t0 = parseFloat(ut[0]);
  const t1 = t0 + (parseFloat(ut[3]) - t0) / pos[3];
  const major: number[] = [], minor: number[] = [];
  for (let k = Math.ceil(t0 * 50); k <= Math.floor(t1 * 50); k++) {
    const f = (k / 50 - t0) / (t1 - t0);
    if (f <= 0.001 || f >= 0.999) continue;
    if (k % 5 === 0) major.push(f); else minor.push(f);
  }
  const ticks: number[] = [];
  [...pos, ...major, ...minor].forEach((v) => { if (near(ticks, v) < 0) ticks.push(v); });
  ticks.sort((a, b) => a - b);

  const xTick = (p: any) => {
    const v = p.payload.value;
    const x = p.x;
    const li = near(pos, v);
    const isMajor = near(major, v) >= 0;
    const isMinor = near(minor, v) >= 0;
    return (
      <g>
        {isMajor && <line x1={x} x2={x} y1={PB} y2={PB + 3.5} stroke="#555" strokeWidth={0.8} />}
        {isMinor && <line x1={x} x2={x} y1={PB} y2={PB + 2} stroke="#555" strokeWidth={0.6} />}
        {li >= 0 && (
          <text x={x} textAnchor="middle" fontSize={12} fontFamily={FONT} fill="#222">
            <tspan x={x} y={PB + 16}>{ut[li]}</tspan>
            <tspan x={x} y={PB + 28}>{mlt[li]}</tspan>
            <tspan x={x} y={PB + 40}>{mlat[li]}</tspan>
          </text>
        )}
        {li === 0 && col === 0 && (
          <text x={x - 43} textAnchor="middle" fontSize={12} fontFamily={FONT} fill="#222">
            <tspan x={x - 43} y={PB + 16}>UT</tspan>
            <tspan x={x - 43} y={PB + 28}>MLT</tspan>
            <tspan x={x - 43} y={PB + 40}>MLAT</tspan>
          </text>
        )}
      </g>
    );
  };

  const yTick = (p: any) => {
    const v = p.payload.value;
    const y = p.y;
    const big = v % 1250 === 0;
    return (
      <g>
        <line x1={PL} x2={PL - (big ? 3.5 : 2)} y1={y} y2={y} stroke="#555" strokeWidth={big ? 0.8 : 0.6} />
        {big && col === 0 && (
          <text x={PL - 5} y={y + 4} textAnchor="end" fontSize={12} fontFamily={FONT} fill="#222">{v}</text>
        )}
        {v === 0 && col === 0 && (
          <text transform={`translate(10,${y + 5}) rotate(-90)`} textAnchor="middle" fontSize={12} fontFamily={FONT} fill="#222">Vy (m/s)</text>
        )}
      </g>
    );
  };

  const vGrid = (props: any) => {
    const o = props && props.offset ? props.offset : { left: PL, width: PW };
    return major.map((f) => o.left + f * o.width);
  };
  const hGrid = (props: any) => {
    const o = props && props.offset ? props.offset : { top: PT, height: PH };
    return [1250, 0, -1250].map((v) => o.top + ((2500 - v) / 5000) * o.height);
  };

  return (
    <div style={{ position: 'absolute', left: colX[col] - PL, top: firstTop + row * rowPitch - PT }}>
      <ComposedChart width={CW} height={CH} margin={{ top: PT, right: PR, left: 0, bottom: 0 }}>
        <CartesianGrid stroke="#e3e3e3" verticalCoordinatesGenerator={vGrid} horizontalCoordinatesGenerator={hGrid} />
        <XAxis type="number" dataKey="x" domain={[0, 1]} ticks={ticks} interval={0} height={XH}
          axisLine={false} tickLine={false} tick={xTick} allowDataOverflow />
        <YAxis type="number" dataKey="y" domain={[-2500, 2500]} ticks={yTicks} interval={0} width={PL}
          axisLine={false} tickLine={false} tick={yTick} allowDataOverflow />
        <ReferenceArea x1={0} x2={1} y1={-2500} y2={2500} fill="none" stroke="#8a8a8a" strokeWidth={1} ifOverflow="visible" />
        <Scatter data={toPoints(DOTS[row][col])} dataKey="y" isAnimationActive={false}
          shape={(p: any) => <rect x={p.cx - 1.3} y={p.cy - 1.3} width={2.6} height={2.6} fill="#000" />} />
        <Line data={toPoints(BLUE[row][col])} dataKey="y" type="linear" stroke="#0000ff" strokeWidth={2}
          dot={false} isAnimationActive={false} connectNulls={false} />
        <Line data={toPoints(RED[row][col])} dataKey="y" type="linear" stroke="#ff0000" strokeWidth={2}
          dot={false} isAnimationActive={false} />
      </ComposedChart>
    </div>
  );
}

export default function App() {
  const rows = [0, 1, 2, 3, 4, 5, 6, 7];
  return (
    <div style={{ position: 'absolute', left: 0, top: 0, width: 709, height: 1159, background: '#fff', fontFamily: FONT }}>
      {sats.map((s, c) => (
        <div key={s} style={{ position: 'absolute', left: colX[c], top: 0, width: PW, textAlign: 'center', color: '#ff00ff', fontSize: 17, lineHeight: '22px' }}>{s}</div>
      ))}
      {rows.map((r) => [0, 1, 2].map((c) => <Panel key={`${r}-${c}`} row={r} col={c} />))}
    </div>
  );
}
